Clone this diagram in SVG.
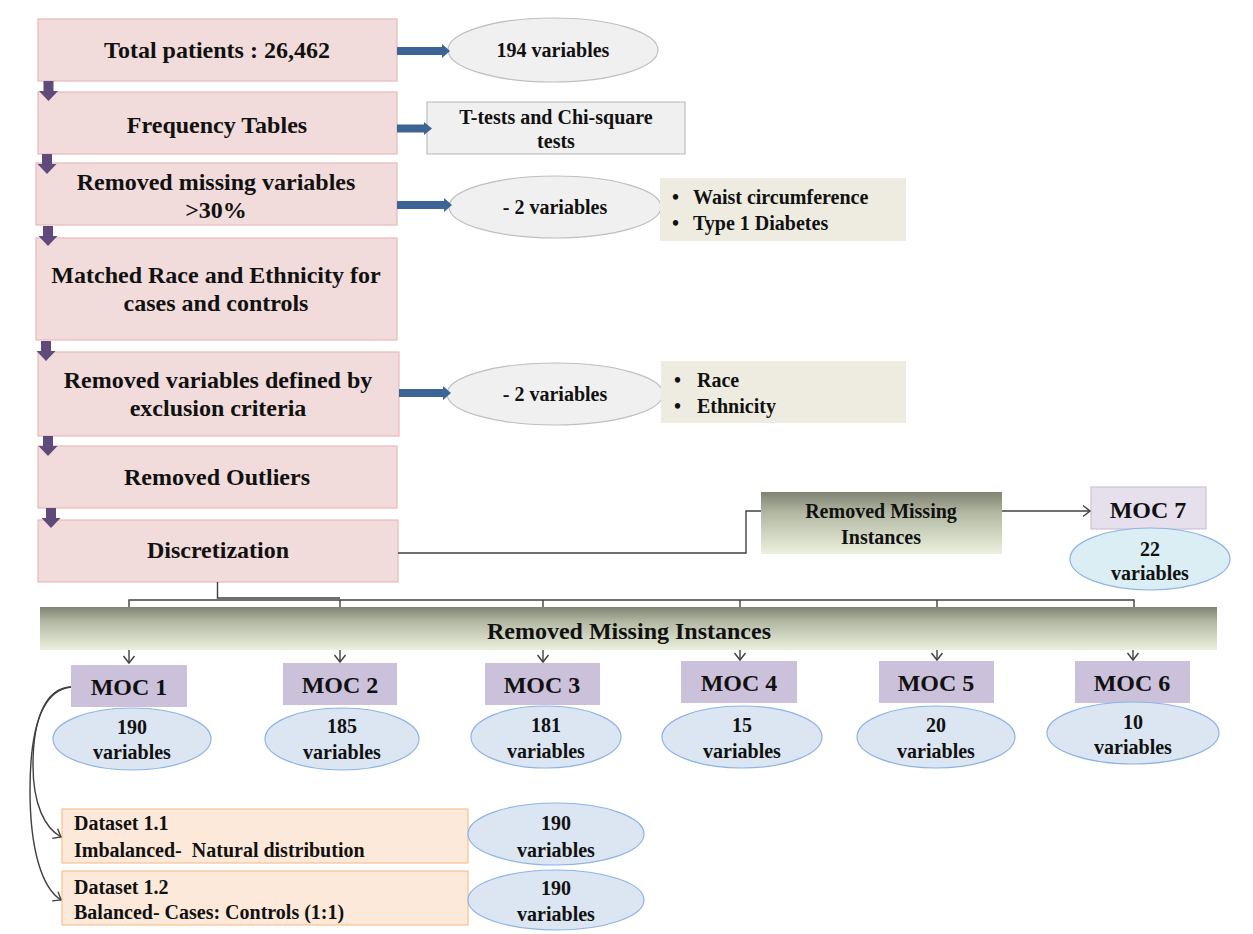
<svg xmlns="http://www.w3.org/2000/svg" width="1253" height="934" viewBox="0 0 1253 934" font-family="'Liberation Serif', 'Times New Roman', 'DejaVu Serif', serif">
  <style>
    text { font-family: 'Liberation Serif', 'Times New Roman', 'DejaVu Serif', serif; font-weight: 700; fill: #111; }
    .t24 { font-size: 24px; text-anchor: middle; }
    .t20 { font-size: 20px; text-anchor: middle; }
    .tl { font-size: 20px; text-anchor: start; }
    .step { fill: #f2dcdb; stroke: #e6b9b8; stroke-width: 1.2; }
    .grey { fill: #f0f0f0; stroke: #bfbfbf; stroke-width: 1.2; }
    .note { fill: #eeece1; stroke: none; }
    .moc { fill: #ccc1da; stroke: none; }
    .moc7 { fill: #e5e0ec; stroke: #ccc1da; stroke-width: 1.2; }
    .blue { fill: #dce6f2; stroke: #8eb4e3; stroke-width: 1.2; }
    .cyan { fill: #dbeef4; stroke: #8eb4e3; stroke-width: 1.2; }
    .data { fill: #fde9d9; stroke: #fac090; stroke-width: 1.2; }
    .down { fill: #604a7b; }
    .right { fill: #3d6496; }
    .wire { fill: none; stroke: #404040; stroke-width: 1.4; }
  </style>
  <defs>
    <linearGradient id="olive" x1="0" y1="0" x2="0" y2="1">
      <stop offset="0" stop-color="#7f8473"/>
      <stop offset="0.35" stop-color="#b3b9a3"/>
      <stop offset="1" stop-color="#ebf1de"/>
    </linearGradient>
    <marker id="open" markerUnits="userSpaceOnUse" markerWidth="14" markerHeight="14" refX="10" refY="7" orient="auto">
      <path d="M3,1.5 L10,7 L3,12.5" fill="none" stroke="#404040" stroke-width="1.4"/>
    </marker>
    <!-- thick block arrow pointing down, 20 long -->
    <path id="dn" d="M-5,0 H5 V10 H9.5 L0,20 L-9.5,10 H-5 Z"/>
  </defs>

  <rect width="1253" height="934" fill="#ffffff"/>

  <!-- main pipeline steps -->
  <g id="total">
    <rect class="step" x="38" y="19" width="359" height="62"/>
    <text class="t24" x="217" y="58">Total patients : 26,462</text>
  </g>
  <g id="freq">
    <rect class="step" x="38" y="92" width="359" height="62"/>
    <text class="t24" x="217" y="133">Frequency Tables</text>
  </g>
  <g id="missing-vars">
    <rect class="step" x="36" y="163" width="361" height="62"/>
    <text class="t24" x="216" y="190">Removed missing variables</text>
    <text class="t24" x="216" y="218">&gt;30%</text>
  </g>
  <g id="matched">
    <rect class="step" x="36" y="238" width="361" height="102"/>
    <text class="t24" x="216" y="283">Matched Race and Ethnicity for</text>
    <text class="t24" x="216" y="311">cases and controls</text>
  </g>
  <g id="exclusion">
    <rect class="step" x="38" y="352" width="361" height="84"/>
    <text class="t24" x="218" y="388">Removed variables defined by</text>
    <text class="t24" x="218" y="416">exclusion criteria</text>
  </g>
  <g id="outliers">
    <rect class="step" x="38" y="446" width="359" height="62"/>
    <text class="t24" x="217" y="485">Removed Outliers</text>
  </g>
  <g id="discretization">
    <rect class="step" x="38" y="520" width="360" height="62"/>
    <text class="t24" x="218" y="558">Discretization</text>
  </g>

  <!-- side results -->
  <g id="v194">
    <ellipse class="grey" cx="553" cy="50" rx="105" ry="32"/>
    <text class="t20" x="553" y="57">194 variables</text>
  </g>
  <g id="tests">
    <rect class="grey" x="427" y="102" width="258" height="52"/>
    <text class="t20" x="556" y="124">T-tests and Chi-square</text>
    <text class="t20" x="556" y="148">tests</text>
  </g>
  <g id="minus2a">
    <ellipse class="grey" cx="555" cy="207" rx="106" ry="31"/>
    <text class="t20" x="555" y="214">- 2 variables</text>
  </g>
  <g id="list-a">
    <rect class="note" x="660" y="178" width="246" height="63"/>
    <text class="tl" x="672" y="204">•</text>
    <text class="tl" x="693" y="204">Waist circumference</text>
    <text class="tl" x="672" y="230">•</text>
    <text class="tl" x="693" y="230">Type 1 Diabetes</text>
  </g>
  <g id="minus2b">
    <ellipse class="grey" cx="555" cy="394" rx="108" ry="31"/>
    <text class="t20" x="555" y="401">- 2 variables</text>
  </g>
  <g id="list-b">
    <rect class="note" x="661" y="361" width="245" height="62"/>
    <text class="tl" x="674" y="387">•</text>
    <text class="tl" x="697" y="387">Race</text>
    <text class="tl" x="674" y="413">•</text>
    <text class="tl" x="697" y="413">Ethnicity</text>
  </g>

  <!-- MOC 7 branch -->
  <g id="missing-inst-7">
    <rect x="761" y="492" width="241" height="62" fill="url(#olive)"/>
    <text class="t20" x="881" y="518">Removed Missing</text>
    <text class="t20" x="881" y="544">Instances</text>
  </g>
  <g id="moc7">
    <rect class="moc7" x="1091" y="487" width="115" height="42"/>
    <text class="t24" x="1148" y="518">MOC 7</text>
    <ellipse class="cyan" cx="1150" cy="559" rx="80" ry="31"/>
    <text class="t20" x="1150" y="556">22</text>
    <text class="t20" x="1150" y="580">variables</text>
  </g>

  <!-- shared missing-instance removal -->
  <g id="missing-inst">
    <rect x="40" y="607" width="1177" height="43" fill="url(#olive)"/>
    <text class="t24" x="629" y="639">Removed Missing Instances</text>
  </g>

  <g id="moc1">
    <rect class="moc" x="71" y="665" width="116" height="42"/>
    <text class="t24" x="129" y="695">MOC 1</text>
    <ellipse class="blue" cx="132" cy="739" rx="79" ry="31"/>
    <text class="t20" x="132" y="734">190</text>
    <text class="t20" x="132" y="759">variables</text>
  </g>
  <g id="moc2">
    <rect class="moc" x="283" y="663" width="114" height="42"/>
    <text class="t24" x="340" y="693">MOC 2</text>
    <ellipse class="blue" cx="342" cy="739" rx="77" ry="31"/>
    <text class="t20" x="342" y="733">185</text>
    <text class="t20" x="342" y="759">variables</text>
  </g>
  <g id="moc3">
    <rect class="moc" x="485" y="663" width="115" height="42"/>
    <text class="t24" x="542" y="693">MOC 3</text>
    <ellipse class="blue" cx="546" cy="737" rx="75" ry="31"/>
    <text class="t20" x="546" y="732">181</text>
    <text class="t20" x="546" y="758">variables</text>
  </g>
  <g id="moc4">
    <rect class="moc" x="681" y="661" width="116" height="42"/>
    <text class="t24" x="739" y="691">MOC 4</text>
    <ellipse class="blue" cx="742" cy="737" rx="80" ry="31"/>
    <text class="t20" x="742" y="732">15</text>
    <text class="t20" x="742" y="758">variables</text>
  </g>
  <g id="moc5">
    <rect class="moc" x="879" y="661" width="115" height="42"/>
    <text class="t24" x="936" y="691">MOC 5</text>
    <ellipse class="blue" cx="936" cy="737" rx="79" ry="31"/>
    <text class="t20" x="936" y="732">20</text>
    <text class="t20" x="936" y="758">variables</text>
  </g>
  <g id="moc6">
    <rect class="moc" x="1075" y="661" width="115" height="42"/>
    <text class="t24" x="1132" y="691">MOC 6</text>
    <ellipse class="blue" cx="1133" cy="733" rx="86" ry="31"/>
    <text class="t20" x="1133" y="729">10</text>
    <text class="t20" x="1133" y="754">variables</text>
  </g>

  <!-- datasets derived from MOC 1 -->
  <g id="dataset-1-1">
    <rect class="data" x="62" y="809" width="406" height="54"/>
    <text class="tl" x="74" y="830">Dataset 1.1</text>
    <text class="tl" x="74" y="857" xml:space="preserve">Imbalanced-  Natural distribution</text>
    <ellipse class="blue" cx="556" cy="834" rx="88" ry="31"/>
    <text class="t20" x="556" y="830">190</text>
    <text class="t20" x="556" y="857">variables</text>
  </g>
  <g id="dataset-1-2">
    <rect class="data" x="62" y="871" width="406" height="54"/>
    <text class="tl" x="74" y="894">Dataset 1.2</text>
    <text class="tl" x="74" y="919">Balanced- Cases: Controls (1:1)</text>
    <ellipse class="blue" cx="556" cy="900" rx="88" ry="30"/>
    <text class="t20" x="556" y="895">190</text>
    <text class="t20" x="556" y="921">variables</text>
  </g>

  <!-- connectors -->
  <g id="connectors">
    <!-- step-to-step block arrows -->
    <g class="down">
      <use href="#dn" x="48.5" y="81"/>
      <use href="#dn" x="47" y="154"/>
      <use href="#dn" x="48" y="226"/>
      <use href="#dn" x="46" y="341"/>
      <use href="#dn" x="48" y="436"/>
      <use href="#dn" x="51" y="508"/>
    </g>
    <!-- step-to-result block arrows -->
    <g class="right">
      <path d="M397,47 H442 V44 L450,51 L442,58 V55 H397 Z"/>
      <path d="M397,124.5 H424 V122 L432,128.5 L424,135 V132.5 H397 Z"/>
      <path d="M397,201 H444 V198 L452,205 L444,212 V209 H397 Z"/>
      <path d="M399,389 H443 V386 L451,393 L443,400 V397 H399 Z"/>
    </g>
    <!-- discretization to MOC 7 -->
    <path class="wire" d="M398,553 H746 V511 H761" stroke="#595959" stroke-width="2"/>
    <path class="wire" d="M1002,511 H1090" marker-end="url(#open)"/>
    <!-- discretization to shared bar -->
    <path class="wire" d="M217.5,582 V598 H340" stroke-width="2.2"/>
    <path class="wire" d="M129,607 V600 H1134 V607 M340,600 V607 M543,600 V607 M740,600 V607 M937,600 V607"/>
    <!-- bar to MOC 1-6 -->
    <path class="wire" d="M129,650 V663" marker-end="url(#open)"/>
    <path class="wire" d="M340,650 V662" marker-end="url(#open)"/>
    <path class="wire" d="M543,650 V662" marker-end="url(#open)"/>
    <path class="wire" d="M740,650 V660" marker-end="url(#open)"/>
    <path class="wire" d="M937,650 V660" marker-end="url(#open)"/>
    <path class="wire" d="M1133,650 V660" marker-end="url(#open)"/>
    <!-- MOC 1 to datasets -->
    <path class="wire" d="M71,687 C45,688 33,720 33,765 C33,805 45,828 61,837" marker-end="url(#open)"/>
    <path class="wire" d="M71,687 C42,690 30,730 30,790 C30,850 42,888 61,900" marker-end="url(#open)"/>
  </g>
</svg>
